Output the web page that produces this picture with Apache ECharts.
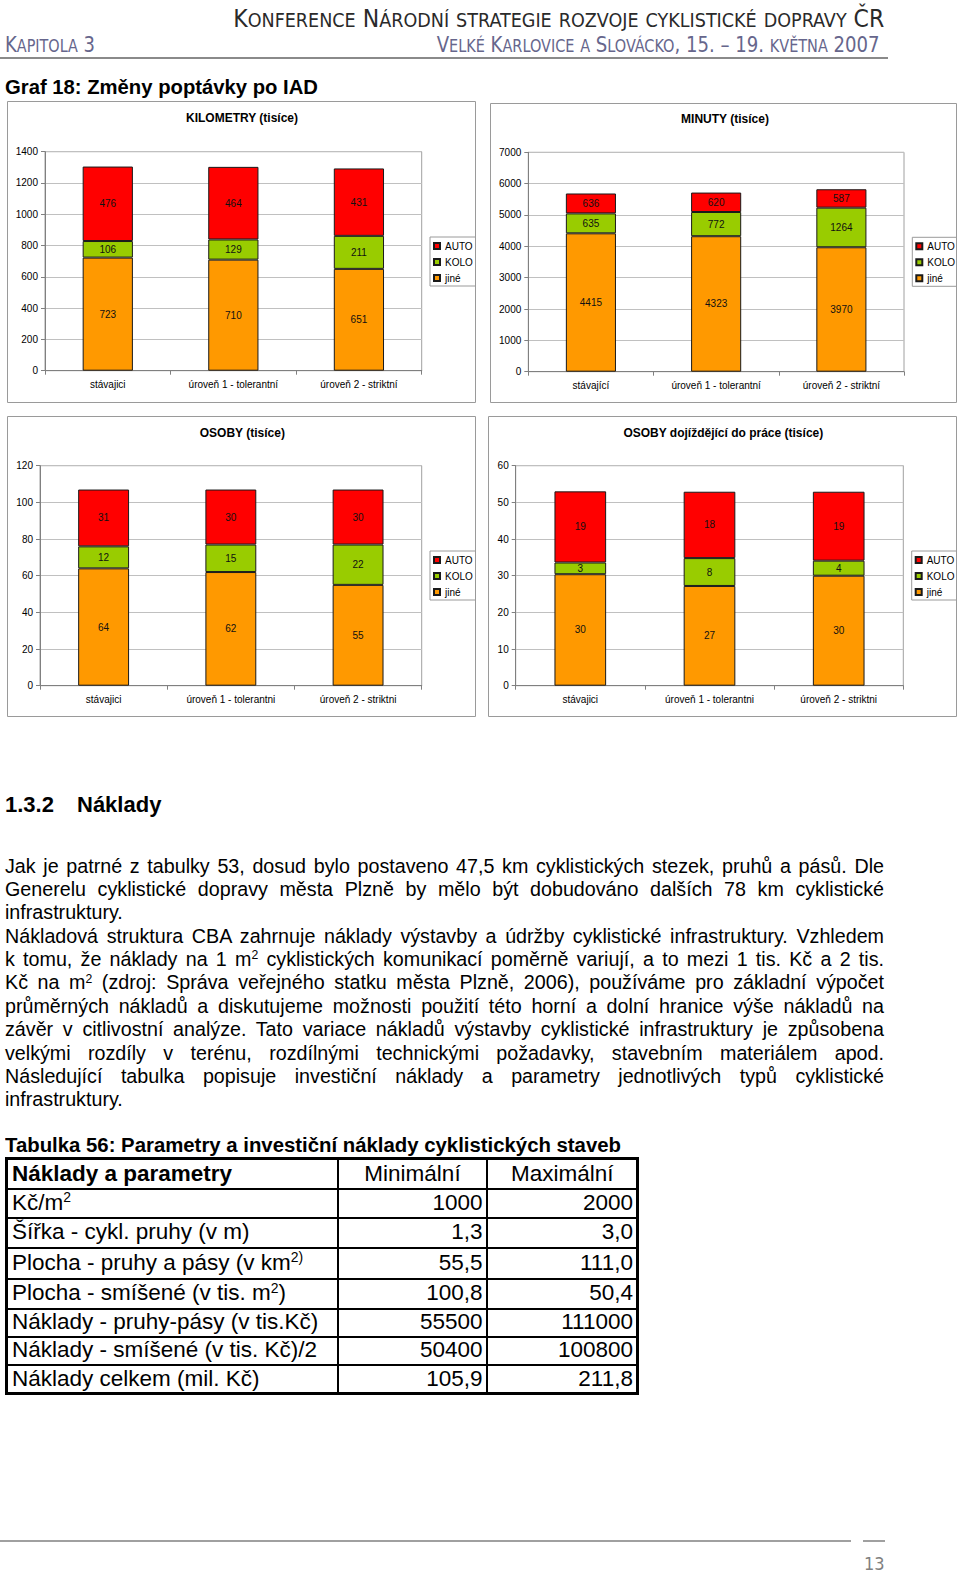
<!DOCTYPE html>
<html><head><meta charset="utf-8">
<script src="https://cdn.jsdelivr.net/npm/echarts@6/dist/echarts.min.js"></script>
<style>
html,body{margin:0;padding:0;background:#fff;}
body{width:960px;height:1571px;position:relative;overflow:hidden;font-family:"Liberation Sans",Arial,sans-serif;color:#000;}
.abs{position:absolute;white-space:nowrap;line-height:1;}
.hdr{font-family:"DejaVu Sans Condensed","DejaVu Sans",sans-serif;}
.sc{font-size:0.8em;}
.chart{position:absolute;}
.ln{height:23.4px;white-space:nowrap;}
sup{font-size:0.62em;line-height:0;vertical-align:baseline;position:relative;top:-0.55em;}
#tbl{position:absolute;left:5px;top:1157px;width:631px;border-collapse:collapse;table-layout:fixed;font-size:22.5px;line-height:1;border:3px solid #000;}
#tbl td{border:2px solid #000;padding:0 3px 0 4px;vertical-align:middle;white-space:nowrap;overflow:hidden;}
#tbl td.r{text-align:right;padding-right:3px;}
#tbl td.c{text-align:center;}
#tbl td.b{font-weight:bold;}
</style></head>
<body>
<!-- page header -->
<div class="abs hdr smallcaps" id="h1" style="right:76px;top:6.5px;font-size:24px;color:#2a2a2a;">Konference Národní strategie rozvoje cyklistické dopravy ČR</div>
<div class="abs hdr smallcaps" id="h2" style="right:80px;top:34px;font-size:22px;color:#66668c;">Velké Karlovice a Slovácko, 15. – 19. května 2007</div>
<div class="abs hdr smallcaps" id="h3" style="left:5px;top:34px;font-size:22px;color:#66668c;">Kapitola 3</div>
<div style="position:absolute;left:0;top:57px;width:888px;height:2px;background:#8a8a8a;"></div>

<div class="abs" id="graf" style="left:5px;top:76.5px;font-size:20px;font-weight:bold;">Graf 18: Změny poptávky po IAD</div>

<div class="chart" id="c1" style="left:7px;top:101px;width:469px;height:302px;"></div>
<div class="chart" id="c2" style="left:490px;top:103px;width:467px;height:300px;"></div>
<div class="chart" id="c3" style="left:7px;top:416px;width:469px;height:301px;"></div>
<div class="chart" id="c4" style="left:488px;top:416px;width:469px;height:301px;"></div>

<div class="abs" style="left:5px;top:794.4px;font-size:22px;font-weight:bold;">1.3.2</div>
<div class="abs" style="left:77px;top:794.4px;font-size:22px;font-weight:bold;">Náklady</div>

<div id="txt" style="position:absolute;left:5px;top:854.5px;width:879px;font-size:19.7px;line-height:23.4px;">
<div class="ln"><span class="j">Jak je patrné z tabulky 53, dosud bylo postaveno 47,5 km cyklistických stezek, pruhů a pásů. Dle</span></div>
<div class="ln"><span class="j">Generelu cyklistické dopravy města Plzně by mělo být dobudováno dalších 78 km cyklistické</span></div>
<div class="ln"><span>infrastruktury.</span></div>
<div class="ln"><span class="j">Nákladová struktura CBA zahrnuje náklady výstavby a údržby cyklistické infrastruktury. Vzhledem</span></div>
<div class="ln"><span class="j">k tomu, že náklady na 1 m<sup>2</sup> cyklistických komunikací poměrně variují, a to mezi 1 tis. Kč a 2 tis.</span></div>
<div class="ln"><span class="j">Kč na m<sup>2</sup> (zdroj: Správa veřejného statku města Plzně, 2006), používáme pro základní výpočet</span></div>
<div class="ln"><span class="j">průměrných nákladů a diskutujeme možnosti použití této horní a dolní hranice výše nákladů na</span></div>
<div class="ln"><span class="j">závěr v citlivostní analýze. Tato variace nákladů výstavby cyklistické infrastruktury je způsobena</span></div>
<div class="ln"><span class="j">velkými rozdíly v terénu, rozdílnými technickými požadavky, stavebním materiálem apod.</span></div>
<div class="ln"><span class="j">Následující tabulka popisuje investiční náklady a parametry jednotlivých typů cyklistické</span></div>
<div class="ln"><span>infrastruktury.</span></div>
</div>

<div class="abs" id="tabt" style="left:5px;top:1134.8px;font-size:20px;font-weight:bold;">Tabulka 56: Parametry a investiční náklady cyklistických staveb</div>

<table id="tbl">
<colgroup><col style="width:331px"><col style="width:149px"><col style="width:151px"></colgroup>
<tr style="height:30px"><td class="b">Náklady a parametry</td><td class="c">Minimální</td><td class="c">Maximální</td></tr>
<tr style="height:29px"><td>Kč/m<sup>2</sup></td><td class="r">1000</td><td class="r">2000</td></tr>
<tr style="height:30px"><td>Šířka - cykl. pruhy (v m)</td><td class="r">1,3</td><td class="r">3,0</td></tr>
<tr style="height:31px"><td>Plocha - pruhy a pásy (v km<sup>2)</sup></td><td class="r">55,5</td><td class="r">111,0</td></tr>
<tr style="height:30px"><td>Plocha - smíšené (v tis. m<sup>2</sup>)</td><td class="r">100,8</td><td class="r">50,4</td></tr>
<tr style="height:28px"><td>Náklady - pruhy-pásy (v tis.Kč)</td><td class="r">55500</td><td class="r">111000</td></tr>
<tr style="height:28px"><td>Náklady - smíšené (v tis. Kč)/2</td><td class="r">50400</td><td class="r">100800</td></tr>
<tr style="height:29px"><td>Náklady celkem (mil. Kč)</td><td class="r">105,9</td><td class="r">211,8</td></tr>
</table>

<div style="position:absolute;left:0;top:1540px;width:851px;height:2px;background:#a0a0a0;"></div>
<div style="position:absolute;left:863px;top:1540px;width:22px;height:2px;background:#a0a0a0;"></div>
<div class="abs hdr" style="left:864px;top:1554.5px;font-size:18px;color:#808080;">13</div>

<script>
// ---------- data ----------
const seriesNames = ['AUTO', 'KOLO', 'jiné'];
const seriesColors = ['#ff0000', '#99cc00', '#ff9900'];

const kmTitle = 'KILOMETRY (tisíce)';
const kmCats = ['stávajici', 'úroveň 1 - tolerantní', 'úroveň 2 - striktní'];
const kmJine = [723, 710, 651];
const kmKolo = [106, 129, 211];
const kmAuto = [476, 464, 431];
const kmAxis = [0, 1400, 200];

const minTitle = 'MINUTY (tisíce)';
const minCats = ['stávající', 'úroveň 1 - tolerantní', 'úroveň 2 - striktní'];
const minJine = [4415, 4323, 3970];
const minKolo = [635, 772, 1264];
const minAuto = [636, 620, 587];
const minAxis = [0, 7000, 1000];

const osTitle = 'OSOBY (tisíce)';
const osCats = ['stávajici', 'úroveň 1 - tolerantni', 'úroveň 2 - striktni'];
const osJine = [64, 62, 55];
const osKolo = [12, 15, 22];
const osAuto = [31, 30, 30];
const osAxis = [0, 120, 20];

const prTitle = 'OSOBY dojíždějící do práce (tisíce)';
const prCats = ['stávajici', 'úroveň 1 - tolerantni', 'úroveň 2 - striktni'];
const prJine = [30.4, 27.2, 30.0];
const prKolo = [3.2, 7.6, 4.1];
const prAuto = [19.4, 18.1, 18.8];
const prAxis = [0, 60, 10];

// ---------- charts ----------
const FF = '"Liberation Sans", Arial, sans-serif';

function barSeries(name, data, color) {
  return {
    name: name, type: 'bar', stack: 'total', data: data, barWidth: '40%',
    itemStyle: { color: color, borderColor: '#1a1a1a', borderWidth: 1 },
    label: { show: true, position: 'inside', fontSize: 10, color: '#111', fontFamily: FF,
      textBorderWidth: 0, formatter: function (p) { return String(Math.round(p.value)); } },
    emphasis: { disabled: true }, animation: false
  };
}

function makeChart(id, title, cats, jine, kolo, auto, axis, L) {
  const el = document.getElementById(id);
  const W = el.clientWidth, H = el.clientHeight;
  const ch = echarts.init(el, null, { renderer: 'svg' });
  ch.setOption({
    animation: false,
    textStyle: { fontFamily: FF },
    graphic: [
      { type: 'rect', silent: true, z: -10, shape: { x: 0.5, y: 0.5, width: W - 1, height: H - 1 },
        style: { fill: '#fff', stroke: '#9a9a9a', lineWidth: 1 } },
      { type: 'text', silent: true, x: L.tx, y: L.ty,
        style: { text: title, fill: '#000', fontSize: 12, fontWeight: 'bold', fontFamily: FF,
          align: 'center', verticalAlign: 'middle', textAlign: 'center', textVerticalAlign: 'middle' } }
    ],
    legend: {
      orient: 'vertical', left: L.lx, top: L.ly, data: seriesNames, icon: 'rect',
      itemWidth: 6, itemHeight: 6, itemGap: 4, padding: [3, 3, 2, 3],
      borderColor: '#9a9a9a', borderWidth: 1, selectedMode: false,
      textStyle: { fontSize: 10, lineHeight: 12, color: '#000', fontFamily: FF }
    },
    grid: { left: L.gl, top: L.gt, width: L.gw, height: L.gh, show: true,
      borderColor: '#a0a0a0', borderWidth: 1, backgroundColor: 'transparent', outerBoundsMode: 'none' },
    xAxis: {
      type: 'category', data: cats,
      axisLine: { show: true, lineStyle: { color: '#808080', width: 1 } },
      axisTick: { show: true, length: 4, lineStyle: { color: '#808080' } },
      axisLabel: { fontSize: 10, color: '#000', margin: 9, interval: 0, fontFamily: FF },
      splitLine: { show: false }
    },
    yAxis: {
      type: 'value', min: axis[0], max: axis[1], interval: axis[2],
      axisLine: { show: true, lineStyle: { color: '#808080', width: 1 } },
      axisTick: { show: true, length: 4, lineStyle: { color: '#808080' } },
      axisLabel: { fontSize: 10, color: '#000', margin: 7, fontFamily: FF,
        formatter: function (v) { return String(v); } },
      splitLine: { show: true, lineStyle: { color: '#c0c0c0', width: 1 } }
    },
    series: [
      barSeries(seriesNames[2], jine, seriesColors[2]),
      barSeries(seriesNames[1], kolo, seriesColors[1]),
      barSeries(seriesNames[0], auto, seriesColors[0])
    ]
  });
}

makeChart('c1', kmTitle, kmCats, kmJine, kmKolo, kmAuto, kmAxis,
  { gl: 38, gt: 50.7, gw: 376.7, gh: 219, tx: 235, ty: 17, lx: 423, ly: 136 });
makeChart('c2', minTitle, minCats, minJine, minKolo, minAuto, minAxis,
  { gl: 38.3, gt: 49.3, gw: 375.7, gh: 219.4, tx: 235, ty: 16, lx: 422.3, ly: 134.3 });
makeChart('c3', osTitle, osCats, osJine, osKolo, osAuto, osAxis,
  { gl: 33, gt: 49.7, gw: 381.7, gh: 220, tx: 235.3, ty: 16.7, lx: 423, ly: 135 });
makeChart('c4', prTitle, prCats, prJine, prKolo, prAuto, prAxis,
  { gl: 27.7, gt: 49.7, gw: 387.6, gh: 220, tx: 235.3, ty: 16.7, lx: 423.7, ly: 135 });

// ---------- small caps emulation (lowercase letters shown as smaller capitals) ----------
document.querySelectorAll('.smallcaps').forEach(function (el) {
  const t = el.textContent;
  let html = '', buf = '';
  function flush() { if (buf) { html += '<span class="sc">' + buf.toUpperCase() + '</span>'; buf = ''; } }
  for (const ch of t) {
    if (ch !== ch.toUpperCase() && ch === ch.toLowerCase()) { buf += ch; }
    else { flush(); html += ch; }
  }
  flush();
  el.innerHTML = html;
});

// ---------- text fitting ----------
function fitW(id, w, origin) {
  const el = document.getElementById(id);
  const r = el.getBoundingClientRect().width;
  el.style.transformOrigin = origin;
  el.style.transform = 'scaleX(' + (w / r) + ')';
}
fitW('h1', 651, 'right center');
fitW('h2', 443, 'right center');
fitW('h3', 90, 'left center');
fitW('graf', 313, 'left center');
fitW('tabt', 616, 'left center');

document.querySelectorAll('.j').forEach(function (sp) {
  const r = sp.getBoundingClientRect().width;
  const n = (sp.textContent.match(/ /g) || []).length;
  if (n > 0) sp.style.wordSpacing = ((879 - r) / n) + 'px';
});
</script>
</body></html>
